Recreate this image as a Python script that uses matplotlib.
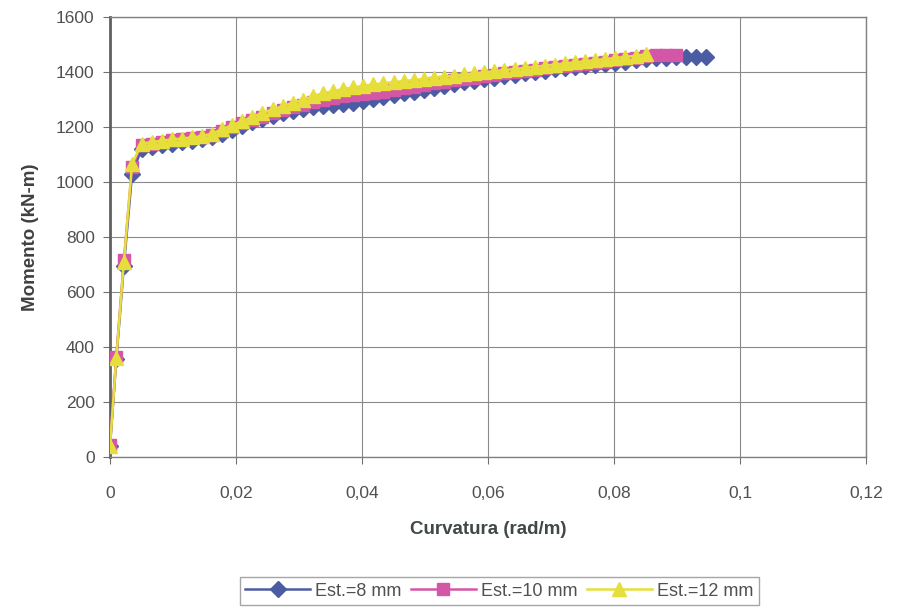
import matplotlib
matplotlib.use("Agg")
import matplotlib.pyplot as plt

plt.rcParams['font.family'] = ['Liberation Sans', 'DejaVu Sans']

curv = [0.0, 0.001, 0.0022, 0.0035, 0.005, 0.0066, 0.0082, 0.0098, 0.0114, 0.013,
        0.0146, 0.0162, 0.0178, 0.0194, 0.021, 0.0226, 0.0242, 0.0258, 0.0274, 0.029,
        0.0306, 0.0322, 0.0338, 0.0354, 0.037, 0.0386, 0.0402, 0.0418, 0.0434, 0.045,
        0.0466, 0.0482, 0.0498, 0.0514, 0.053, 0.0546, 0.0562, 0.0578, 0.0594, 0.061,
        0.0626, 0.0642, 0.0658, 0.0674, 0.069, 0.0706, 0.0722, 0.0738, 0.0754, 0.077,
        0.0786, 0.0802, 0.0818, 0.0834, 0.085, 0.0866, 0.0882, 0.0898, 0.0914, 0.093,
        0.0946]

m_8mm = [40, 355, 695, 1030, 1120, 1128, 1135, 1140, 1145, 1150,
         1155, 1162, 1175, 1190, 1205, 1218, 1230, 1240, 1250, 1260,
         1267, 1272, 1276, 1280, 1284, 1289, 1295, 1301, 1308, 1315,
         1322, 1329, 1336, 1343, 1350, 1356, 1362, 1368, 1374, 1380,
         1385, 1390, 1395, 1400, 1405, 1410, 1414, 1418, 1422, 1426,
         1430, 1434, 1438, 1442, 1446, 1450, 1452, 1453, 1454, 1455,
         1455]

m_10mm = [45, 365, 715, 1055, 1135, 1140, 1146, 1151, 1155, 1159,
          1164, 1171, 1185, 1200, 1213, 1226, 1238, 1250, 1261, 1271,
          1281, 1290, 1298, 1305, 1311, 1315, 1319, 1324, 1329, 1335,
          1341, 1347, 1353, 1359, 1365, 1370, 1375, 1380, 1385, 1390,
          1395, 1400, 1404, 1409, 1413, 1418, 1422, 1426, 1430, 1434,
          1438, 1442, 1446, 1450, 1460, 1461, 1461, 1461]

m_12mm = [40, 360, 710, 1065, 1140, 1145, 1150, 1155, 1158, 1162,
          1167, 1176, 1192, 1207, 1222, 1237, 1251, 1264, 1276, 1288,
          1300, 1312, 1322, 1331, 1338, 1344, 1350, 1355, 1359, 1363,
          1367, 1371, 1375, 1379, 1383, 1387, 1391, 1395, 1399, 1403,
          1407, 1411, 1415, 1419, 1423, 1427, 1431, 1435, 1439, 1443,
          1447, 1451, 1455, 1459, 1464]

labels = ['Est.=8 mm', 'Est.=10 mm', 'Est.=12 mm']
xticks = [0, 0.02, 0.04, 0.06, 0.08, 0.1, 0.12]
xticklabels = ['0', '0,02', '0,04', '0,06', '0,08', '0,1', '0,12']
yticks = [0, 200, 400, 600, 800, 1000, 1200, 1400, 1600]

fig = plt.figure(figsize=(8.98, 6.12), dpi=100)
ax = fig.add_axes([0.1225, 0.2533, 0.842, 0.7189])

ax.plot(curv[:len(m_8mm)], m_8mm, color='#4c5ca4', marker='D', markersize=8,
        lw=1.8, label=labels[0], zorder=3)
ax.plot(curv[:len(m_10mm)], m_10mm, color='#d456a6', marker='s', markersize=9,
        lw=1.8, label=labels[1], zorder=4)
ax.plot(curv[:len(m_12mm)], m_12mm, color='#e6de3a', marker='^', markersize=10,
        lw=1.8, label=labels[2], zorder=5)

ax.set_xlim(0, 0.12)
ax.set_ylim(0, 1600)
ax.set_xticks(xticks)
ax.set_xticklabels(xticklabels)
ax.set_yticks(yticks)
ax.grid(True, color='#8a8a8a', lw=0.8)
ax.set_axisbelow(True)

for s in ['top', 'right', 'bottom']:
    ax.spines[s].set_color('#808080')
    ax.spines[s].set_linewidth(1.0)
ax.spines['left'].set_color('#606060')
ax.spines['left'].set_linewidth(2.0)

ax.tick_params(axis='x', direction='out', length=5, pad=16, labelsize=12.5,
               labelcolor='#505050', color='#707070')
ax.tick_params(axis='y', direction='out', length=5, pad=6, labelsize=12.5,
               labelcolor='#505050', color='#707070')

ax.set_xlabel('Curvatura (rad/m)', fontsize=13.5, fontweight='bold',
              color='#404848', labelpad=14)
ax.set_ylabel('Momento (kN-m)', fontsize=13.5, fontweight='bold',
              color='#404040', labelpad=12)

leg = fig.legend(loc='center', bbox_to_anchor=(0.556, 0.034), ncol=3,
                 frameon=True, fancybox=False, fontsize=13, handlelength=3.6,
                 columnspacing=0.5, handletextpad=0.3, borderpad=0.3)
leg.get_frame().set_edgecolor('#909090')
leg.get_frame().set_linewidth(1.0)
for t in leg.get_texts():
    t.set_color('#505050')

fig.savefig('out.png', dpi=100)
